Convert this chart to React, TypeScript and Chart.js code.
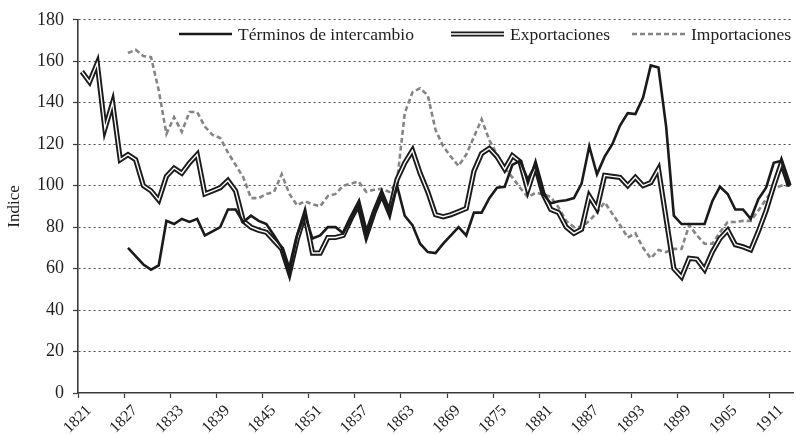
import React, { useEffect, useRef } from 'react';
import { Chart, registerables } from 'chart.js';

Chart.register(...registerables);

// ---------- data ----------
const FIRST_YEAR = 1821;
const LAST_YEAR = 1913;
const years: number[] = Array.from({ length: LAST_YEAR - FIRST_YEAR + 1 }, (_, i) => FIRST_YEAR + i);
const yearLabels: string[] = years.map((y) => String(y));

const tickYears: number[] = [1821, 1827, 1833, 1839, 1845, 1851, 1857, 1863, 1869, 1875, 1881, 1887, 1893, 1899, 1905, 1911];

const yTicks: number[] = [0, 20, 40, 60, 80, 100, 120, 140, 160, 180];

const terminos: (number | null)[] = [
  null, null, null, null, null, null, 70, 66, 62, 59.5,
  61.5, 83, 81.5, 84, 82.5, 84, 76, 78, 80, 88.5,
  88.5, 82.5, 85.5, 83, 81.5, 76, 70, 58, 76, 86,
  74.5, 76, 80, 80, 77, 84, 91, 76, 87, 96,
  87, 100, 85.5, 81, 72, 68, 67.5, 72, 76, 80,
  76, 87, 87, 94, 99, 99.5, 110, 112, 103, 110,
  96, 91.5, 92.5, 93, 94, 101, 119, 105.5, 114, 120,
  129, 135, 134.5, 142.5, 158, 157, 128.5, 85.5, 81.5, 81.5,
  81.5, 81.5, 92.5, 99.5, 96, 88.5, 88.5, 84, 93.5, 99,
  111, 112, 99.5,
];

const exportaciones: (number | null)[] = [
  155, 150, 159, 127.5, 140, 112.5, 115, 112.5, 100, 97.5,
  93, 104.5, 108.5, 106, 111, 115, 96, 97.5, 99, 102.5,
  97.5, 83, 80, 78.5, 77.5, 73.5, 69.5, 58, 74, 86,
  67.5, 67.5, 75, 75, 76, 84, 91, 76, 87, 96,
  87, 103, 111, 117, 106, 97, 86, 85, 86, 87.5,
  89, 107, 115.5, 118, 114, 108, 114.5, 111.5, 98, 109.5,
  96, 88.5, 87, 80, 77, 79, 95, 89, 105, 104.5,
  104, 100, 104, 100, 101.5, 108, 84, 60, 56, 65,
  64.5, 59.5, 68, 74.5, 78.5, 71.5, 70.5, 69, 78, 88,
  100, 111, 100,
];

const importaciones: (number | null)[] = [
  null, null, null, null, null, null, 164, 165.5, 162.5, 162,
  146, 125, 133, 126, 135.5, 135.5, 128.5, 124.5, 123, 116,
  110, 104, 94, 94, 96, 97, 105.5, 96, 90.5, 92.5,
  91, 90, 95, 96, 100, 101, 102, 97, 98, 98.5,
  97, 102, 135, 145, 147, 143.5, 127, 119, 114, 109.5,
  115, 123.5, 132, 122, 115, 108.5, 104, 99, 94.5, 96.5,
  96, 94.5, 89.5, 83, 80, 80, 83, 87, 92, 86.5,
  81, 75, 77, 70, 65, 69, 68, 69.5, 69.5, 81,
  76, 72, 72, 77.5, 82.5, 82.5, 83, 83, 88, 93.5,
  98.5, 100, 100,
];

const SERIES_NAMES = ['Términos de intercambio', 'Exportaciones', 'Importaciones'];

// ---------- styles ----------
const FONT_FAMILY = '"Liberation Serif", "Times New Roman", serif';
const TEXT = '#1e1e1e';
const AXIS = '#3a3a3a';
const GRID = '#4a4a4a';
const LINE = '#1a1a1a';
const IMP = '#858585';

// Legend drawn inside the plot area, one row
const legendPlugin = {
  id: 'inlineLegend',
  afterDraw(chart: any) {
    const ctx = chart.ctx as CanvasRenderingContext2D;
    const y = 34;
    const starts = [179, 451, 632];
    const lineLen = 53;
    ctx.save();
    ctx.font = `17.5px ${FONT_FAMILY}`;
    ctx.textBaseline = 'middle';
    ctx.fillStyle = TEXT;
    SERIES_NAMES.forEach((name, k) => {
      const x0 = starts[k];
      ctx.beginPath();
      ctx.setLineDash([]);
      if (k === 0) {
        ctx.strokeStyle = LINE;
        ctx.lineWidth = 2.6;
        ctx.moveTo(x0, y);
        ctx.lineTo(x0 + lineLen, y);
        ctx.stroke();
      } else if (k === 1) {
        ctx.strokeStyle = LINE;
        ctx.lineWidth = 5.2;
        ctx.moveTo(x0, y);
        ctx.lineTo(x0 + lineLen, y);
        ctx.stroke();
        ctx.beginPath();
        ctx.strokeStyle = '#ffffff';
        ctx.lineWidth = 1.4;
        ctx.moveTo(x0 - 1, y);
        ctx.lineTo(x0 + lineLen + 1, y);
        ctx.stroke();
      } else {
        ctx.strokeStyle = IMP;
        ctx.lineWidth = 2.6;
        ctx.setLineDash([5, 3]);
        ctx.moveTo(x0, y);
        ctx.lineTo(x0 + lineLen, y);
        ctx.stroke();
        ctx.setLineDash([]);
      }
      ctx.fillText(name, x0 + lineLen + 6, y + 1);
    });
    ctx.restore();
  },
};

// X tick labels at 45°, anchored near each tick mark (category boundary)
const xLabelPlugin = {
  id: 'xLabels45',
  afterDraw(chart: any) {
    const xs = chart.scales.x;
    const ctx = chart.ctx as CanvasRenderingContext2D;
    const half = (xs.getPixelForValue(1) - xs.getPixelForValue(0)) / 2;
    ctx.save();
    ctx.font = `16px ${FONT_FAMILY}`;
    ctx.fillStyle = TEXT;
    ctx.textAlign = 'right';
    ctx.textBaseline = 'middle';
    tickYears.forEach((ty) => {
      const idx = years.indexOf(ty);
      const boundary = xs.getPixelForValue(idx) - half;
      ctx.save();
      ctx.translate(boundary + 11, xs.top + 15);
      ctx.rotate(-Math.PI / 4);
      ctx.fillText(String(ty), 0, 0);
      ctx.restore();
    });
    ctx.restore();
  },
};

export default function App() {
  const canvasRef = useRef<HTMLCanvasElement | null>(null);

  useEffect(() => {
    const canvas = canvasRef.current;
    if (!canvas) return;
    const chart = new Chart(canvas, {
      type: 'line',
      data: {
        labels: yearLabels,
        datasets: [
          {
            label: SERIES_NAMES[0],
            data: terminos,
            borderColor: LINE,
            borderWidth: 2.6,
            pointRadius: 0,
            tension: 0,
            spanGaps: false,
            fill: false,
          },
          {
            label: SERIES_NAMES[1] + ' (inner)',
            data: exportaciones,
            borderColor: '#ffffff',
            borderWidth: 1.4,
            pointRadius: 0,
            tension: 0,
            fill: false,
          },
          {
            label: SERIES_NAMES[1],
            data: exportaciones,
            borderColor: LINE,
            borderWidth: 5.2,
            pointRadius: 0,
            tension: 0,
            fill: false,
          },
          {
            label: SERIES_NAMES[2],
            data: importaciones,
            borderColor: IMP,
            borderWidth: 2.6,
            borderDash: [5, 3],
            pointRadius: 0,
            tension: 0,
            spanGaps: false,
            fill: false,
          },
        ],
      },
      options: {
        responsive: false,
        animation: false,
        devicePixelRatio: 1,
        events: [],
        layout: { padding: { top: 15, right: 3, left: 0, bottom: 0 } },
        plugins: {
          legend: { display: false },
          tooltip: { enabled: false },
        },
        scales: {
          x: {
            type: 'category',
            offset: true,
            grid: {
              offset: true,
              drawOnChartArea: false,
              drawTicks: true,
              tickLength: 5,
              tickWidth: 1.2,
              color: 'rgba(0,0,0,0)',
              tickColor: (c: any) => (tickYears.includes(years[c.index]) ? AXIS : 'rgba(0,0,0,0)'),
            },
            border: { display: true, color: AXIS, width: 1.6 },
            ticks: {
              display: false,
              autoSkip: false,
            },
            afterFit: (s: any) => {
              s.height = 42;
            },
          },
          y: {
            min: 0,
            max: 180,
            afterBuildTicks: (s: any) => {
              s.ticks = yTicks.map((v) => ({ value: v }));
            },
            ticks: {
              padding: 9,
              color: TEXT,
              font: { family: FONT_FAMILY, size: 18 },
            },
            grid: {
              color: (c: any) => (c.tick && c.tick.value === 0 ? 'rgba(0,0,0,0)' : GRID),
              lineWidth: 1,
              drawTicks: true,
              tickLength: 5,
              tickWidth: 1.2,
              tickColor: AXIS,
              tickBorderDash: [],
            },
            border: { display: true, color: AXIS, width: 1.6, dash: [2, 3] },
            title: {
              display: true,
              text: 'Indice',
              color: TEXT,
              font: { family: FONT_FAMILY, size: 17 },
              padding: { top: 4, bottom: 4 },
            },
            afterFit: (s: any) => {
              s.width = 78;
            },
          },
        },
      } as any,
      plugins: [legendPlugin, xLabelPlugin],
    });
    return () => chart.destroy();
  }, []);

  return (
    <div style={{ position: 'fixed', left: 0, top: 0, width: 796, height: 435, background: '#ffffff' }}>
      <canvas ref={canvasRef} width={796} height={435} style={{ display: 'block', width: 796, height: 435 }} />
    </div>
  );
}
